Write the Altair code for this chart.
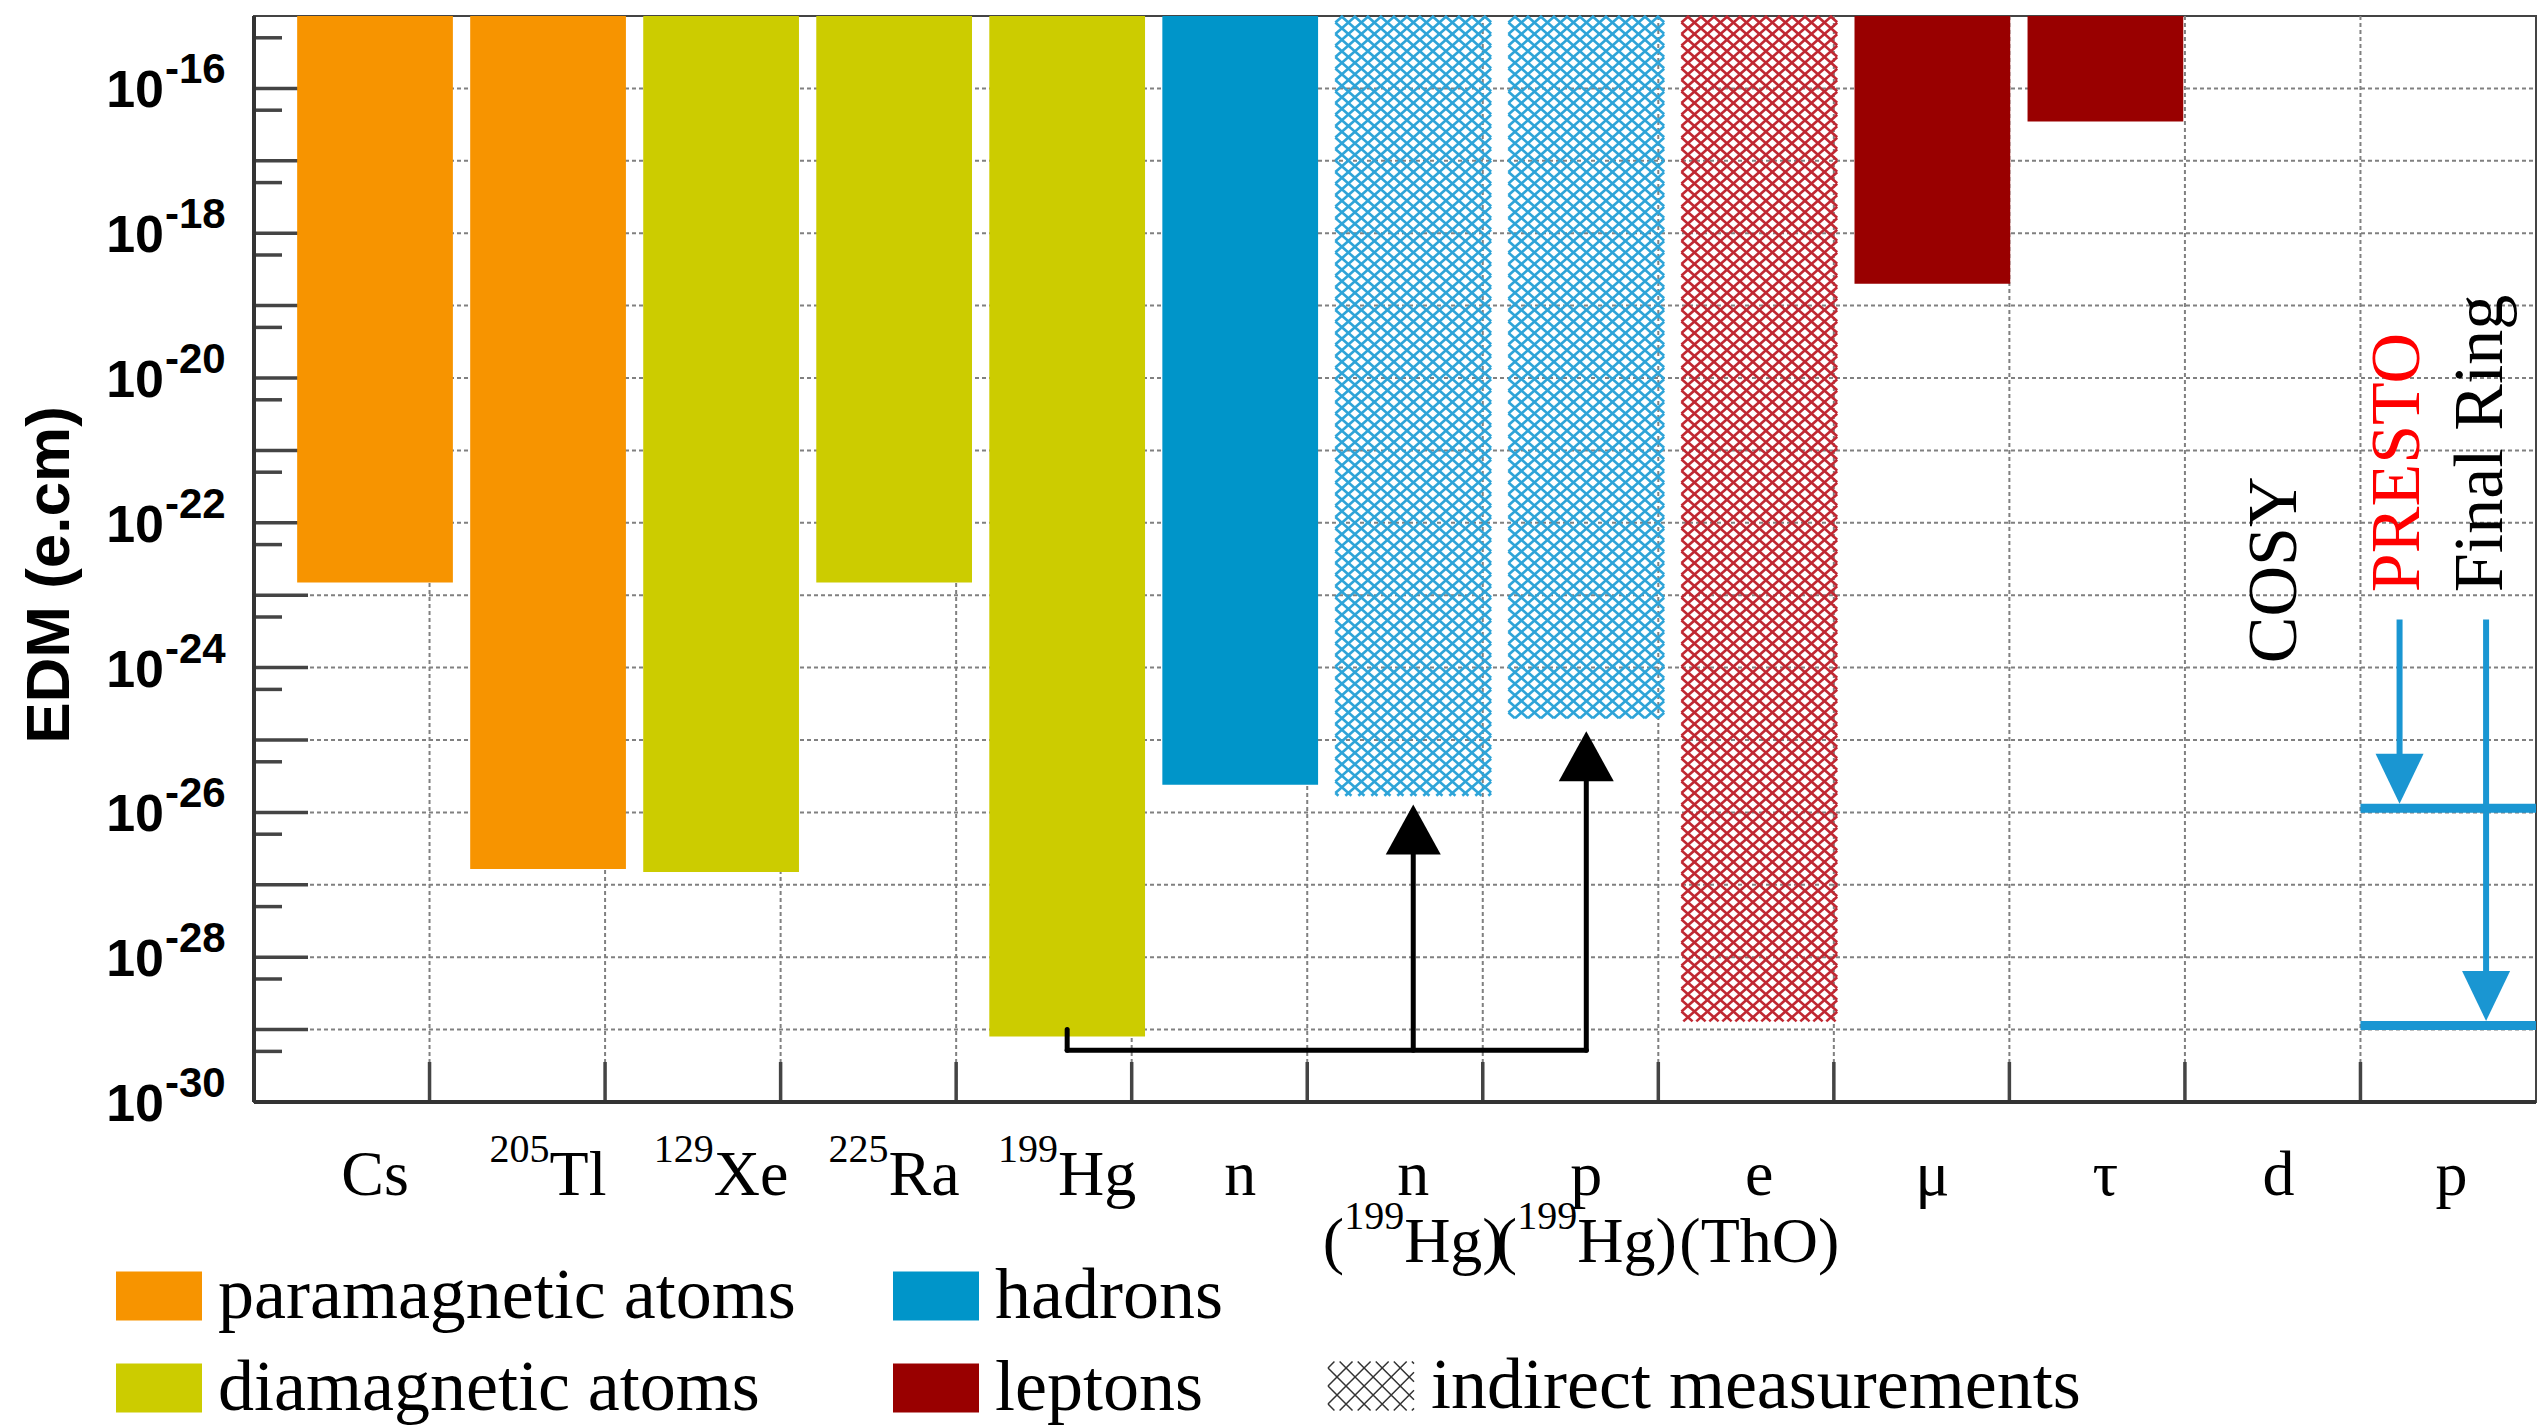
import math
import altair as alt
import pandas as pd

# ---------------- data ----------------
symbols = ["Cs", "Tl", "Xe", "Ra", "Hg", "n", "n", "p", "e", "μ", "τ", "d", "p"]
isotope_mass = ["", "205", "129", "225", "199", "", "", "", "", "", "", "", ""]
sub_symbols = ["", "", "", "", "", "", "Hg", "Hg", "ThO", "", "", "", ""]
sub_mass = ["", "", "", "", "", "", "199", "199", "", "", "", "", ""]
edm_limits = [1.5e-23, 1.65e-27, 1.5e-27, 1.5e-23, 8.0e-30, 2.4e-26,
              1.7e-26, 2.0e-25, 1.3e-29, 2.0e-19, 3.5e-17, None, None]
groups = ["paramagnetic atoms", "paramagnetic atoms", "diamagnetic atoms",
          "diamagnetic atoms", "diamagnetic atoms", "hadrons",
          "indirect", "indirect", "indirect", "leptons", "leptons", None, None]

legend_groups = ["paramagnetic atoms", "diamagnetic atoms", "hadrons", "leptons"]
legend_colors = ["#f79400", "#cccc00", "#0095c9", "#990000"]
indirect_colors = ["#2ea4d8", "#2ea4d8", "#c02832"]

# proposed storage-ring sensitivities (category "p")
proposals = ["PRESTO", "Final Ring"]
proposal_limits = [1.14e-26, 1.14e-29]
proposal_arrow_x = [11.70, 12.20]
proposal_arrow_top = 4.6e-24
facility_labels = ["COSY", "PRESTO", "Final Ring"]
facility_x = [11.10, 11.81, 12.29]
facility_y = [1.15e-24, 1.1e-23, 1.1e-23]
facility_colors = ["black", "#ff0000", "black"]

# 199Hg -> n, p link
link_from = 4
link_to = [6, 7]
link_level = 5.2e-30
link_stub_top = 1.0e-29
link_tips = [1.29e-26, 1.32e-25]

# axis
Y_MIN, Y_MAX = 1e-30, 1e-15
label_exps = list(range(-16, -31, -2))
decades = [10.0 ** e for e in range(-29, -15)]
minor_ticks = [5 * 10.0 ** e for e in range(-30, -15)]

# ---------------- layout constants ----------------
W, H = 2282, 1086
X_MIN = -0.6994
GRID_STEP = 1.01445
X_MAX = X_MIN + 13 * GRID_STEP
grid_x = [X_MIN + GRID_STEP * k for k in range(1, 13)]
BAR_HALF = 0.45
PX_X = W / (X_MAX - X_MIN)
PX_DEC = H / 15.0

XS = alt.Scale(domain=[X_MIN, X_MAX], nice=False, zero=False)
YS = alt.Scale(type="log", domain=[Y_MIN, Y_MAX], nice=False)

SERIF = "Liberation Serif"
SANS = "Liberation Sans"
MAIN_FS, SUP_FS = 64, 40
SUP_RAISE = 33
LINE1_Y, LINE2_Y = 1179, 1246
GRID_STYLE = dict(color="#808080", strokeWidth=2, strokeDash=[4, 3])

# Times / Liberation Serif advance widths (per 1000 em)
TIMES = {"C": 667, "s": 389, "T": 611, "l": 278, "X": 722, "e": 444, "R": 667,
         "a": 444, "H": 722, "g": 500, "(": 333, ")": 333, "h": 500, "O": 722}
for d in "0123456789":
    TIMES[d] = 500


def text_w(t, fs):
    return sum(TIMES.get(ch, 500) for ch in t) * fs / 1000.0


def clip(c, sign, s, ul, ur, lo, hi):
    ua = ul + (lo - c) / (sign * s)
    ub = ul + (hi - c) / (sign * s)
    u1 = max(ul, min(ua, ub))
    u2 = min(ur, max(ua, ub))
    if u2 - u1 < 1e-9:
        return None
    return u1, c + sign * s * (u1 - ul), u2, c + sign * s * (u2 - ul)


def lattice(ul, ur, lo, hi, s, dv):
    segs = []
    span = s * (ur - ul)
    kmin = math.floor((lo - span) / dv) - 1
    kmax = math.ceil((hi + span) / dv) + 1
    for sign in (1, -1):
        for k in range(kmin, kmax + 1):
            seg = clip(k * dv, sign, s, ul, ur, lo, hi)
            if seg:
                segs.append(seg)
    return segs


# ---------------- tables ----------------
bar_rows, hatch_rows = [], []
CELL_W, CELL_H = 13.0, 11.5
s_data = CELL_H * PX_X / (CELL_W * PX_DEC)
dv_data = CELL_H / PX_DEC
ind_i = 0
for i, (lim, g) in enumerate(zip(edm_limits, groups)):
    if lim is None:
        continue
    if g == "indirect":
        col = indirect_colors[ind_i]
        ind_i += 1
        for u1, v1, u2, v2 in lattice(i - BAR_HALF, i + BAR_HALF,
                                      math.log10(lim), math.log10(Y_MAX), s_data, dv_data):
            hatch_rows.append({"x": u1, "x2": u2, "y": 10 ** v1, "y2": 10 ** v2, "c": col})
    else:
        bar_rows.append({"x": i - BAR_HALF, "x2": i + BAR_HALF, "lo": lim, "hi": Y_MAX, "group": g})
bars_df = pd.DataFrame(bar_rows)
hatch_df = pd.DataFrame(hatch_rows)

sw = lattice(-1.0, 1.0, -0.57, 0.57, 1.0, 0.42)
swatch_path = "".join(f"M{u1:.3f},{v1:.3f}L{u2:.3f},{v2:.3f}" for u1, v1, u2, v2 in sw)

# category labels: plain (centred) and composite with superscript mass numbers
plain1, plain2 = [], []
runs = {("1", "main"): [], ("1", "sup"): [], ("2", "main"): [], ("2", "sup"): []}


def add_runs(line, i, parts):
    tot = sum(text_w(t, SUP_FS if k == "sup" else MAIN_FS) for t, k in parts)
    cum = -tot / 2
    for t, k in parts:
        runs[(line, k)].append({"x": i + cum / PX_X, "t": t})
        cum += text_w(t, SUP_FS if k == "sup" else MAIN_FS)


for i in range(len(symbols)):
    if isotope_mass[i]:
        add_runs("1", i, [(isotope_mass[i], "sup"), (symbols[i], "main")])
    else:
        plain1.append({"i": i, "t": symbols[i]})
    if sub_symbols[i]:
        if sub_mass[i]:
            add_runs("2", i, [("(", "main"), (sub_mass[i], "sup"), (sub_symbols[i] + ")", "main")])
        else:
            plain2.append({"i": i, "t": "(" + sub_symbols[i] + ")"})

ylab_df = pd.DataFrame({"v": [10.0 ** e for e in label_exps],
                        "base": ["10"] * len(label_exps),
                        "exp": [f"-{-e}" for e in label_exps]})


def xq(f):
    return alt.X(f, scale=XS, axis=None)


def yq(f):
    return alt.Y(f, scale=YS, axis=None)


# ---------------- layers ----------------
hgrid = alt.Chart(pd.DataFrame({"v": decades})).mark_rule(**GRID_STYLE).encode(
    y=yq("v:Q"), x=alt.value(0), x2=alt.value(W))
vgrid = alt.Chart(pd.DataFrame({"g": grid_x})).mark_rule(**GRID_STYLE).encode(
    x=xq("g:Q"), y=alt.value(0), y2=alt.value(H))

major_ticks = alt.Chart(pd.DataFrame({"v": decades})).mark_rule(color="#444", strokeWidth=3.5).encode(
    y=yq("v:Q"), x=alt.value(0), x2=alt.value(54))
minor_tick_layer = alt.Chart(pd.DataFrame({"v": minor_ticks})).mark_rule(color="#444", strokeWidth=3.5).encode(
    y=yq("v:Q"), x=alt.value(0), x2=alt.value(28))
x_ticks = alt.Chart(pd.DataFrame({"g": grid_x})).mark_rule(color="#444", strokeWidth=3.5).encode(
    x=xq("g:Q"), y=alt.value(H), y2=alt.value(H - 40))

bars = alt.Chart(bars_df).mark_rect().encode(
    x=xq("x:Q"), x2="x2:Q", y=yq("lo:Q"), y2="hi:Q",
    color=alt.Color("group:N", scale=alt.Scale(domain=legend_groups, range=legend_colors),
                    legend=alt.Legend(title=None, orient="none", legendX=116 - 254, legendY=1237,
                                      columns=2, symbolType="M-1,-0.57H1V0.57H-1Z",
                                      symbolSize=7396, symbolStrokeWidth=0, symbolOpacity=1,
                                      labelFont=SERIF, labelFontSize=72, labelColor="black",
                                      labelOffset=16, labelLimit=2000, rowPadding=13,
                                      columnPadding=97, padding=0)),
)

hatch = alt.Chart(hatch_df).mark_rule(strokeWidth=2.6).encode(
    x=xq("x:Q"), x2="x2:Q", y=yq("y:Q"), y2="y2:Q", stroke=alt.Stroke("c:N", scale=None))

indirect_legend = alt.Chart(pd.DataFrame({"kind": ["indirect measurements"], "x": [0.0], "y": [1e-20]})).mark_point(
    opacity=0, filled=False).encode(
    x=xq("x:Q"), y=yq("y:Q"),
    shape=alt.Shape("kind:N", scale=alt.Scale(domain=["indirect measurements"], range=[swatch_path]),
                    legend=alt.Legend(title=None, orient="none", legendX=1327 - 254, legendY=1326,
                                      symbolSize=7396, symbolStrokeColor="#333",
                                      symbolFillColor="transparent", symbolStrokeWidth=1.5,
                                      symbolOpacity=1, labelFont=SERIF, labelFontSize=72,
                                      labelColor="black", labelOffset=16, labelLimit=2000, padding=0)),
)

HEAD = 50
head_dec = HEAD / PX_DEC
link_rows = [{"x": link_from, "x2": link_from, "y": link_stub_top, "y2": link_level},
             {"x": link_from, "x2": max(link_to), "y": link_level, "y2": link_level}]
for t, tip in zip(link_to, link_tips):
    link_rows.append({"x": t, "x2": t, "y": link_level, "y2": tip / 10 ** (head_dec * 0.85)})
link_lines = alt.Chart(pd.DataFrame(link_rows)).mark_rule(color="black", strokeWidth=5, strokeCap="round").encode(
    x=xq("x:Q"), x2="x2:Q", y=yq("y:Q"), y2="y2:Q")
link_heads = alt.Chart(pd.DataFrame({"x": link_to, "y": link_tips})).mark_point(
    shape="M0,0L-1.1,2L1.1,2Z", size=HEAD * HEAD, filled=True, color="black", opacity=1, strokeWidth=0).encode(
    x=xq("x:Q"), y=yq("y:Q"))

BLUE = "#1a96d2"
prop_lines = alt.Chart(pd.DataFrame({"name": proposals, "v": proposal_limits,
                                     "x": [grid_x[-1]] * 2, "x2": [X_MAX] * 2})).mark_rule(
    color=BLUE, strokeWidth=9).encode(x=xq("x:Q"), x2="x2:Q", y=yq("v:Q"))
prop_tips = [v * 10 ** (4.5 / PX_DEC) for v in proposal_limits]
prop_shafts = alt.Chart(pd.DataFrame({"x": proposal_arrow_x, "y": [proposal_arrow_top] * 2,
                                      "y2": [t * 10 ** (head_dec * 0.85) for t in prop_tips]})).mark_rule(
    color=BLUE, strokeWidth=6).encode(x=xq("x:Q"), y=yq("y:Q"), y2="y2:Q")
prop_heads = alt.Chart(pd.DataFrame({"x": proposal_arrow_x, "y": prop_tips})).mark_point(
    shape="M0,0L-0.96,-2L0.96,-2Z", size=HEAD * HEAD, filled=True, color=BLUE, opacity=1, strokeWidth=0).encode(
    x=xq("x:Q"), y=yq("y:Q"))

facility_text = alt.Chart(pd.DataFrame({"t": facility_labels, "x": facility_x, "y": facility_y,
                                        "c": facility_colors})).mark_text(
    angle=270, align="left", baseline="alphabetic", font=SERIF, fontSize=70).encode(
    x=xq("x:Q"), y=yq("y:Q"), text="t:N", color=alt.Color("c:N", scale=None))

# y tick labels (10 with superscript exponent) and axis title
ylab_base = alt.Chart(ylab_df).mark_text(align="right", baseline="middle", font=SANS, fontSize=52,
                                         fontWeight="bold", color="black", dy=3).encode(
    y=yq("v:Q"), x=alt.value(-90), text="base:N")
ylab_exp = alt.Chart(ylab_df).mark_text(align="left", baseline="middle", font=SANS, fontSize=42,
                                        fontWeight="bold", color="black", dy=-18).encode(
    y=yq("v:Q"), x=alt.value(-89), text="exp:N")
y_title = alt.Chart(pd.DataFrame({"t": ["EDM (e.cm)"]})).mark_text(
    angle=270, align="center", baseline="middle", font=SANS, fontSize=62, fontWeight="bold",
    color="black").encode(x=alt.value(-204), y=alt.value(559), text="t:N")

# x category labels
text_common = dict(baseline="alphabetic", font=SERIF, color="black")
xl_plain1 = alt.Chart(pd.DataFrame(plain1)).mark_text(align="center", fontSize=MAIN_FS, **text_common).encode(
    x=xq("i:Q"), y=alt.value(LINE1_Y), text="t:N")
xl_plain2 = alt.Chart(pd.DataFrame(plain2)).mark_text(align="center", fontSize=MAIN_FS, **text_common).encode(
    x=xq("i:Q"), y=alt.value(LINE2_Y), text="t:N")
xl_runs = []
for (ln, kind), rows in runs.items():
    base_y = LINE1_Y if ln == "1" else LINE2_Y
    fs = MAIN_FS if kind == "main" else SUP_FS
    yy = base_y if kind == "main" else base_y - SUP_RAISE
    xl_runs.append(alt.Chart(pd.DataFrame(rows)).mark_text(align="left", fontSize=fs, **text_common).encode(
        x=xq("x:Q"), y=alt.value(yy), text="t:N"))

# axis lines
axis_left = alt.Chart(pd.DataFrame({"a": [0]})).mark_rule(color="#333", strokeWidth=4).encode(
    x=alt.value(0), y=alt.value(0), y2=alt.value(H))
axis_bottom = alt.Chart(pd.DataFrame({"a": [0]})).mark_rule(color="#333", strokeWidth=4).encode(
    x=alt.value(0), x2=alt.value(W), y=alt.value(H))

chart = alt.layer(
    hgrid, vgrid, major_ticks, minor_tick_layer, x_ticks, bars, hatch, indirect_legend,
    link_lines, link_heads, prop_lines, prop_shafts, prop_heads, facility_text,
    ylab_base, ylab_exp, y_title, xl_plain1, xl_plain2, *xl_runs, axis_left, axis_bottom,
).properties(
    width=W, height=H,
    padding={"left": 254, "top": 16, "right": 1, "bottom": 325},
    autosize=alt.AutoSizeParams(type="none"),
    background="white",
).configure_view(stroke="#444", strokeWidth=2)

chart.save("out.html", embed_options={"renderer": "svg", "actions": False})
